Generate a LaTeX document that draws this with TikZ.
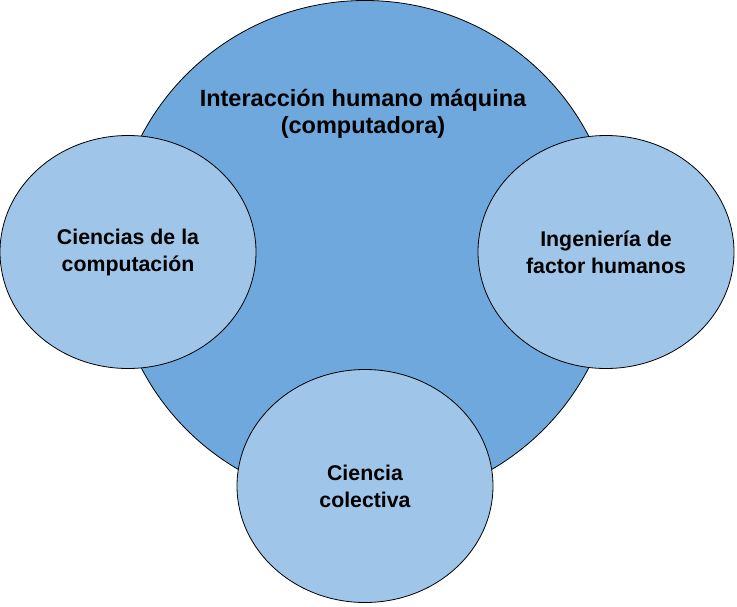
\documentclass[tikz,border=0pt]{standalone}
\usepackage{fontspec}
\setmainfont{Liberation Sans}
\usetikzlibrary{shapes.geometric, positioning}
\definecolor{CornflowerMid}{HTML}{6fa8dc}
\definecolor{CornflowerPale}{HTML}{9fc5e8}
\definecolor{Ink}{HTML}{000000}

\begin{document}
\begin{tikzpicture}[x=1pt, y=-1pt,
    field/.style={ellipse, draw=Ink, line width=0.8pt, inner sep=0pt},
    bigfield/.style={field, fill=CornflowerMid, minimum width=504pt, minimum height=503pt},
    subfield/.style={field, fill=CornflowerPale, minimum width=256pt, minimum height=233pt,
        align=center, font=\bfseries\fontsize{21.3}{27}\selectfont},
    headtext/.style={align=center, font=\bfseries\fontsize{23.5}{27}\selectfont}]
    \useasboundingbox (0, 0) rectangle (737, 606);

    % main area
    \node[bigfield] (hci) at (365, 252) {};
    \node[headtext] (hciLabel) at (363, 114) {Interacción humano máquina\\(computadora)};

    % overlapping fields
    \node[subfield] (compSci) at (128, 252) {Ciencias de la\\computación};
    \node[subfield] (humanFactors) at (606, 252) {Ingeniería de\\factor humanos};
    \node[subfield] (collective) at (365, 486) {Ciencia\\colectiva};
\end{tikzpicture}
\end{document}
